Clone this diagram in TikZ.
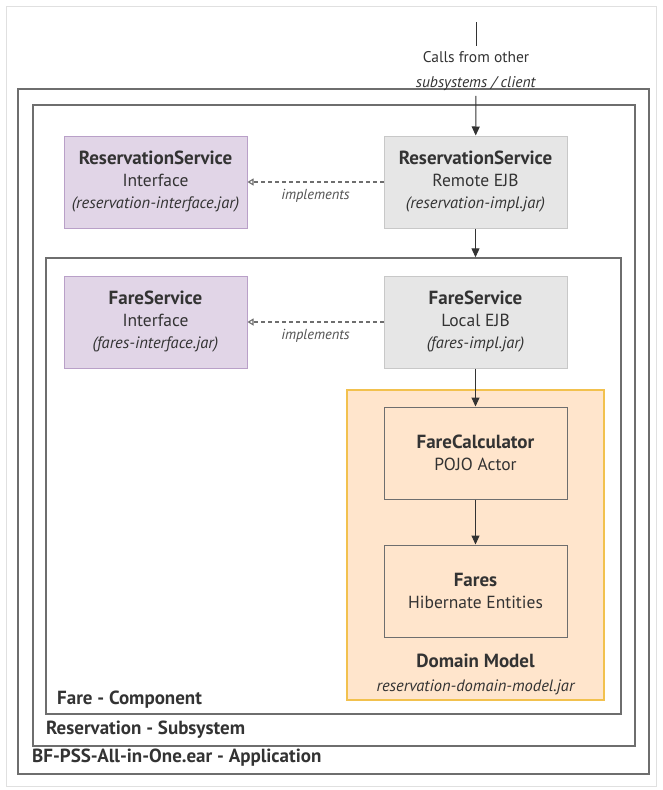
\documentclass[tikz,border=0pt]{standalone}
\usepackage{fontspec}
\setmainfont{PT Sans}
\usetikzlibrary{positioning,arrows.meta}

\definecolor{txtgray}{HTML}{333333}
\definecolor{framegray}{HTML}{6E6E6E}
\definecolor{intfill}{HTML}{E1D5E7}
\definecolor{intdraw}{HTML}{B9A0C8}
\definecolor{ejbfill}{HTML}{E6E6E6}
\definecolor{ejbdraw}{HTML}{C8C8C8}
\definecolor{domfill}{HTML}{FFE5CC}
\definecolor{domdraw}{HTML}{F2C14E}

\newcommand{\svcname}[1]{{\fontsize{19}{22}\selectfont\bfseries #1}}
\newcommand{\svcjar}[1]{{\fontsize{16.5}{22}\selectfont\itshape #1}}

\begin{document}
\begin{tikzpicture}[x=1pt,y=-1pt,
        service/.style = {rectangle, minimum width=183pt, minimum height=92pt, align=center, text=txtgray, font=\fontsize{17.5}{22}\selectfont, line width=1pt},
        iface/.style = {service, fill=intfill, draw=intdraw},
        ejb/.style = {service, fill=ejbfill, draw=ejbdraw},
        pojo/.style = {service, fill=domfill, draw=framegray},
        container/.style = {rectangle, draw=framegray, line width=1.4pt, inner sep=0pt},
        boxlabel/.style = {anchor=west, text=txtgray, font=\fontsize{19}{21}\selectfont\bfseries, inner sep=0pt},
        flow/.style = {draw=txtgray, line width=1pt, -{Triangle[length=9pt,width=8pt]}},
        impl/.style = {draw=framegray, line width=1.1pt, dash pattern=on 4pt off 3pt, -{Triangle[open,length=6pt,width=7pt]}},
        implabel/.style = {font=\fontsize{14.5}{16}\selectfont\itshape, text=txtgray!85}
    ]
    \useasboundingbox (0,0) rectangle (662,790);
    \node[draw=black!12, line width=1pt, minimum width=650pt, minimum height=780pt] (page) at (331,396) {};

    % containers
    \node[container, minimum width=631pt, minimum height=685pt] (app) at (333.5,431.5) {};
    \node[container, minimum width=602pt, minimum height=641pt] (subsys) at (334,425.5) {};
    \node[container, minimum width=575pt, minimum height=456pt] (comp) at (333.5,486) {};
    \node[rectangle, fill=domfill, draw=domdraw, line width=1.2pt, minimum width=257pt, minimum height=310pt] (domain) at (475.5,545) {};

    \node[boxlabel] (complabel) at (57,700) {Fare - Component};
    \node[boxlabel] (subslabel) at (46,730) {Reservation - Subsystem};
    \node[boxlabel] (applabel) at (32,758) {BF-PSS-All-in-One.ear - Application};

    % services
    \node[iface] (resintf) at (155.5,182) {\svcname{ReservationService}\\Interface\\\svcjar{(reservation-interface.jar)}};
    \node[ejb] (resimpl) [right=136pt of resintf] {\svcname{ReservationService}\\Remote EJB\\\svcjar{(reservation-impl.jar)}};
    \node[iface] (fareintf) [below=47pt of resintf] {\svcname{FareService}\\Interface\\\svcjar{(fares-interface.jar)}};
    \node[ejb] (farelocal) [right=136pt of fareintf] {\svcname{FareService}\\Local EJB\\\svcjar{(fares-impl.jar)}};
    \node[pojo] (calc) [below=38pt of farelocal] {\svcname{FareCalculator}\\POJO Actor};
    \node[pojo] (fares) [below=45pt of calc] {\svcname{Fares}\\Hibernate Entities};
    \node[align=center, text=txtgray, font=\fontsize{16.5}{24}\selectfont] (domlabel) at (475.5,674) {\svcname{Domain Model}\\\svcjar{reservation-domain-model.jar}};

    % callers
    \coordinate (src) at (476,22);
    \node[align=center, text=txtgray, font=\fontsize{15.5}{25}\selectfont, inner xsep=1pt, inner ysep=5pt] (calls) at (476,71) {Calls from other\\\textit{subsystems / client}};
    \coordinate (compin) at (resimpl.south |- comp.north);

    \draw[draw=txtgray, line width=1pt] (src) -- (calls);
    \draw[flow] (calls) -- (resimpl);
    \draw[flow] (resimpl) -- (compin);
    \draw[flow] (farelocal) -- (calc);
    \draw[flow] (calc) -- (fares);

    \path[impl] (resimpl) edge node[implabel, below=3pt] {implements} (resintf);
    \path[impl] (farelocal) edge node[implabel, below=3pt] {implements} (fareintf);
\end{tikzpicture}
\end{document}
